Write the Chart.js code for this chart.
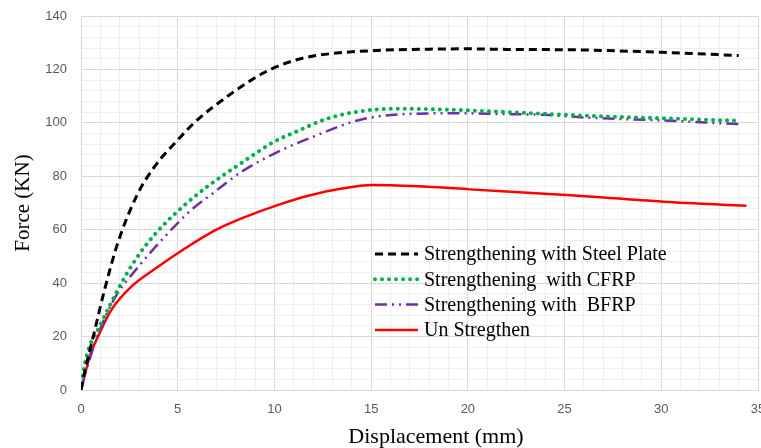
<!DOCTYPE html>
<html>
<head>
<meta charset="utf-8">
<script src="https://cdn.jsdelivr.net/npm/chart.js@4/dist/chart.umd.min.js"></script>
<style>
  html, body { margin: 0; padding: 0; background: #fff; overflow: hidden; }
  #wrap { position: relative; width: 761px; height: 448px; }
</style>
</head>
<body>
<div id="wrap"><canvas id="forceChart"></canvas></div>
<script>
// Datos (desplazamiento en mm, fuerza en KN)
const steelX = [0, 0.2, 0.7, 1.2, 1.9, 2.9, 3.8, 5, 6, 7.4, 8.8, 9.8, 11, 12, 13.5, 15.3, 18, 20, 22, 25.8, 30.1, 34];
const steelY = [0, 7, 22, 37, 55, 73, 83.6, 93.6, 101, 109, 116, 120, 123.3, 125, 126.3, 127.1, 127.6, 127.7, 127.5, 127.3, 126.4, 125.2];

const cfrpX = [0, 0.2, 1.05, 1.9, 2.4, 3.3, 4.3, 5.4, 6.5, 8.3, 10, 11, 12.7, 14.4, 16.5, 18.7, 22.2, 25.1, 30.1, 34];
const cfrpY = [0, 10, 25, 37.4, 44, 53.7, 62, 69.5, 76, 85, 93, 96.3, 101.5, 104.3, 105.3, 105, 104, 103, 101.7, 100.8];

const bfrpX = [0, 0.3, 0.9, 1.75, 2.95, 4.5, 5.7, 6.7, 8.3, 10.2, 12, 14.4, 16.8, 19.6, 21.7, 23.9, 26.1, 28.5, 30.8, 33.2, 34];
const bfrpY = [0, 8, 21.2, 34.5, 46, 58.7, 67.4, 73, 81.7, 89.2, 94.8, 101.1, 103.3, 103.6, 103.3, 103, 102, 101.3, 100.7, 99.8, 99.6];

const unX = [0, 0.5, 0.88, 1.57, 2.6, 4, 5, 7, 8.5, 10.2, 11.8, 13.4, 15.1, 17.9, 20.1, 22.2, 25.1, 30.1, 34.4];
const unY = [0, 13.7, 20, 30, 38.7, 46.2, 51.2, 60, 64.8, 69.3, 72.8, 75.3, 76.7, 76.1, 75.1, 74.2, 73, 70.5, 69];

const seriesLabels = ['Strengthening with Steel Plate', 'Strengthening  with CFRP', 'Strengthening with  BFRP', 'Un Stregthen'];
const xTitle = 'Displacement (mm)';
const yTitle = 'Force (KN)';

function toPoints(xs, ys) {
    return xs.map((x, i) => ({ x: x, y: ys[i] }));
}

const majorGrid = '#d9d9d9';
const minorGrid = '#eeeeee';
const serifFont = '"Liberation Serif", "Times New Roman", serif';

// Leyenda dentro del área del gráfico y título del eje X
const insideLegend = {
    id: 'insideLegend',
    afterDatasetsDraw(chart) {
        const ctx = chart.ctx;
        const area = chart.chartArea;
        ctx.save();
        chart.data.datasets.forEach((ds, i) => {
            const y = area.top + 238 + i * 25.3;
            const x0 = area.left + 294;
            ctx.strokeStyle = ds.borderColor;
            ctx.lineWidth = ds.borderWidth;
            ctx.lineCap = ds.borderCapStyle || 'butt';
            ctx.setLineDash(ds.borderDash || []);
            ctx.beginPath();
            ctx.moveTo(x0, y);
            ctx.lineTo(x0 + 43, y);
            ctx.stroke();
            ctx.setLineDash([]);
            ctx.fillStyle = '#000';
            ctx.font = '20px ' + serifFont;
            ctx.textBaseline = 'middle';
            ctx.textAlign = 'left';
            ctx.fillText(ds.label, x0 + 49, y + 1);
        });
        // título del eje X, algo desplazado a la derecha como en el original
        ctx.font = '22px ' + serifFont;
        ctx.textAlign = 'center';
        ctx.textBaseline = 'middle';
        ctx.fillText(xTitle, area.left + 355, chart.height - 11);
        ctx.restore();
    }
};

document.addEventListener('DOMContentLoaded', function() {
    const ctx = document.getElementById('forceChart');
    new Chart(ctx, {
        type: 'scatter',
        data: {
            datasets: [{
                label: seriesLabels[0],
                data: toPoints(steelX, steelY),
                borderColor: '#000000',
                borderWidth: 3,
                borderDash: [8, 5]
            }, {
                label: seriesLabels[1],
                data: toPoints(cfrpX, cfrpY),
                borderColor: '#00B050',
                borderWidth: 4,
                borderDash: [0.01, 7],
                borderCapStyle: 'round'
            }, {
                label: seriesLabels[2],
                data: toPoints(bfrpX, bfrpY),
                borderColor: '#7030A0',
                borderWidth: 2.5,
                borderDash: [12, 5, 2, 5, 2, 5]
            }, {
                label: seriesLabels[3],
                data: toPoints(unX, unY),
                borderColor: '#FF0000',
                borderWidth: 2.5
            }]
        },
        options: {
            responsive: true,
            maintainAspectRatio: false,
            animation: false,
            showLine: true,
            layout: { padding: { top: 16, right: 0, left: 0, bottom: 0 } },
            elements: {
                point: { radius: 0, hoverRadius: 0 },
                line: { tension: 0.4, cubicInterpolationMode: 'monotone', fill: false }
            },
            plugins: {
                legend: { display: false },
                tooltip: { enabled: false }
            },
            scales: {
                x: {
                    type: 'linear',
                    min: 0,
                    max: 35,
                    afterFit: function(scale) {
                        scale.height = 58;
                        scale.paddingRight = 3;
                        scale.paddingLeft = 0;
                    },
                    ticks: {
                        stepSize: 1,
                        autoSkip: false,
                        maxRotation: 0,
                        padding: 12,
                        color: '#595959',
                        font: { family: '"Liberation Sans", Arial, sans-serif', size: 13 },
                        callback: function(value) { return value % 5 === 0 ? value : ''; }
                    },
                    grid: {
                        drawTicks: false,
                        color: function(c) { return c.tick && c.tick.value % 5 === 0 ? majorGrid : minorGrid; }
                    },
                    border: { color: majorGrid },
                    title: { display: false }
                },
                y: {
                    min: 0,
                    max: 140,
                    afterFit: function(scale) {
                        scale.width = 81;
                        scale.paddingTop = 0;
                        scale.paddingBottom = 0;
                    },
                    ticks: {
                        stepSize: 4,
                        autoSkip: false,
                        padding: 14,
                        color: '#595959',
                        font: { family: '"Liberation Sans", Arial, sans-serif', size: 13 },
                        callback: function(value) { return value % 20 === 0 ? value : ''; }
                    },
                    grid: {
                        drawTicks: false,
                        color: function(c) { return c.tick && c.tick.value % 20 === 0 ? majorGrid : minorGrid; }
                    },
                    border: { color: majorGrid },
                    title: {
                        display: true,
                        text: yTitle,
                        color: '#000',
                        padding: { top: 11, bottom: 0 },
                        font: { family: serifFont, size: 21 }
                    }
                }
            }
        },
        plugins: [insideLegend]
    });
});
</script>
</body>
</html>
